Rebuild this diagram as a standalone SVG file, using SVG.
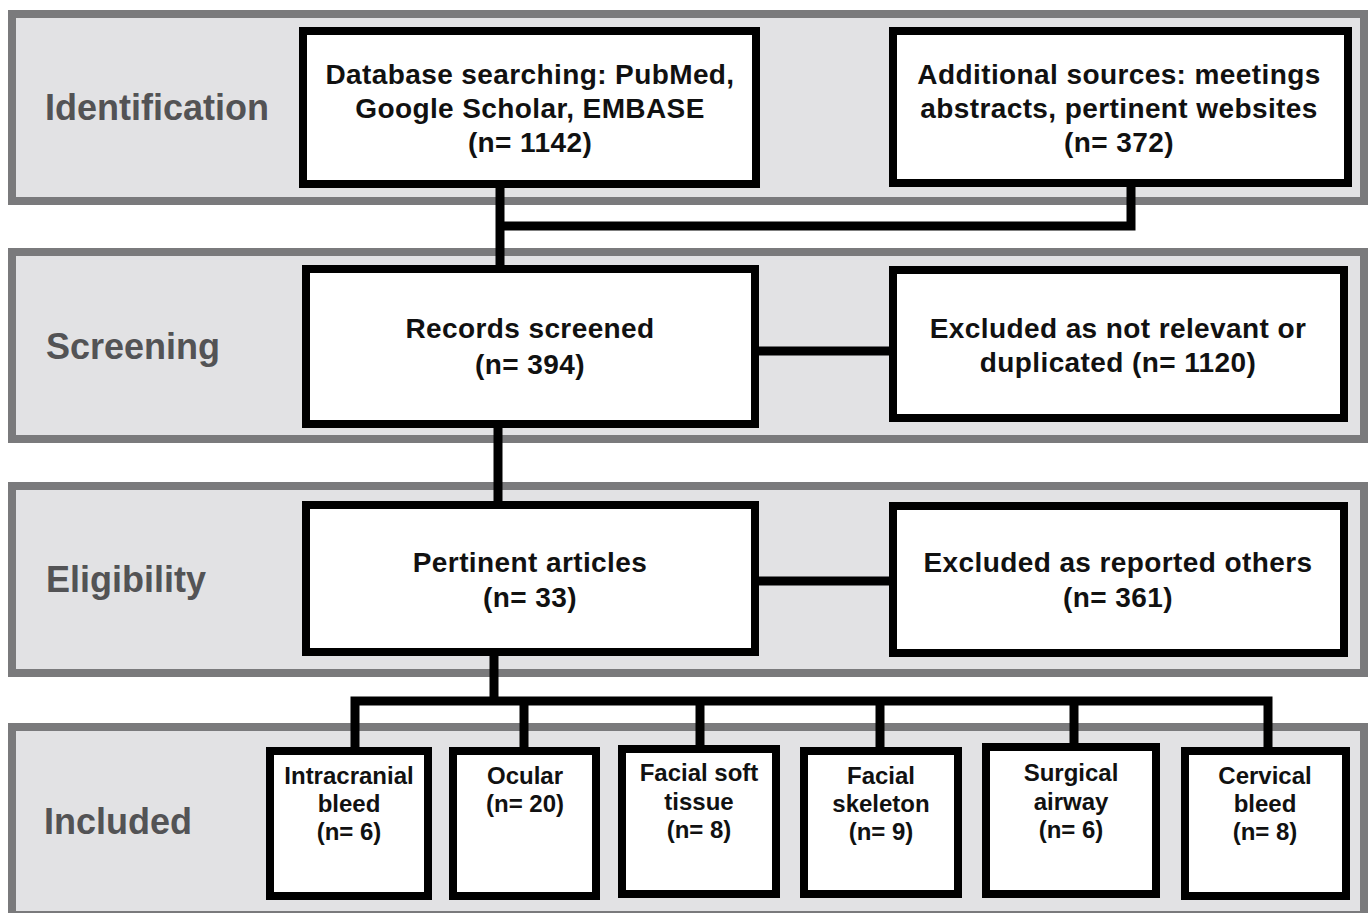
<svg xmlns="http://www.w3.org/2000/svg" width="1370" height="913" viewBox="0 0 1370 913">
<style>
.band{fill:#e2e2e4;stroke:#7a7a7c;stroke-width:8}
.box{fill:#fff;stroke:#000;stroke-width:8}
.lbl{font-family:"Liberation Sans",Arial,sans-serif;font-weight:bold;font-size:36px;fill:#535355}
.t{font-family:"Liberation Sans",Arial,sans-serif;font-weight:bold;font-size:28px;letter-spacing:0.4px;fill:#111;text-anchor:middle}
.s{font-family:"Liberation Sans",Arial,sans-serif;font-weight:bold;font-size:24px;fill:#111;text-anchor:middle}
.c{fill:none;stroke:#000;stroke-width:9;stroke-linejoin:miter;stroke-linecap:butt}
</style>
<rect width="1370" height="913" fill="#fff"/>
<g id="bands">
<rect class="band" x="12" y="14" width="1352" height="187"/>
<rect class="band" x="12" y="252" width="1352" height="187"/>
<rect class="band" x="12" y="486" width="1352" height="187"/>
<rect class="band" x="12" y="727" width="1352" height="188"/>
</g>
<g id="labels">
<text class="lbl" x="45" y="120">Identification</text>
<text class="lbl" x="46" y="359">Screening</text>
<text class="lbl" x="46" y="592">Eligibility</text>
<text class="lbl" x="44" y="834">Included</text>
</g>
<g id="connectors">
<path class="c" d="M500,186 V268"/>
<path class="c" d="M500,226 H1131 V186"/>
<path class="c" d="M757,351 H891"/>
<path class="c" d="M498,426 V506"/>
<path class="c" d="M757,581 H891"/>
<path class="c" d="M494,653 V701"/>
<path class="c" d="M355,749 V701 H1268 V749"/>
<path class="c" d="M524,701 V749"/>
<path class="c" d="M700,701 V749"/>
<path class="c" d="M880,701 V749"/>
<path class="c" d="M1074,701 V745"/>
</g>
<g id="n-database">
<rect class="box" x="303" y="31" width="453" height="153"/>
<text class="t" x="530" y="84">Database searching: PubMed,</text>
<text class="t" x="530" y="118">Google Scholar, EMBASE</text>
<text class="t" x="530" y="152">(n= 1142)</text>
</g>
<g id="n-additional">
<rect class="box" x="893" y="31" width="455" height="152"/>
<text class="t" x="1119" y="84">Additional sources: meetings</text>
<text class="t" x="1119" y="118">abstracts, pertinent websites</text>
<text class="t" x="1119" y="152">(n= 372)</text>
</g>
<g id="n-screened">
<rect class="box" x="306" y="269" width="449" height="155"/>
<text class="t" x="530" y="338">Records screened</text>
<text class="t" x="530" y="374">(n= 394)</text>
</g>
<g id="n-excluded1">
<rect class="box" x="893" y="270" width="451" height="148"/>
<text class="t" x="1118" y="338">Excluded as not relevant or</text>
<text class="t" x="1118" y="372">duplicated (n= 1120)</text>
</g>
<g id="n-pertinent">
<rect class="box" x="306" y="505" width="449" height="147"/>
<text class="t" x="530" y="572">Pertinent articles</text>
<text class="t" x="530" y="607">(n= 33)</text>
</g>
<g id="n-excluded2">
<rect class="box" x="893" y="506" width="451" height="147"/>
<text class="t" x="1118" y="572">Excluded as reported others</text>
<text class="t" x="1118" y="607">(n= 361)</text>
</g>
<g id="n-intracranial">
<rect class="box" x="270" y="751" width="158" height="145"/>
<text class="s" x="349" y="784">Intracranial</text>
<text class="s" x="349" y="812">bleed</text>
<text class="s" x="349" y="840">(n= 6)</text>
</g>
<g id="n-ocular">
<rect class="box" x="453" y="751" width="143" height="145"/>
<text class="s" x="525" y="784">Ocular</text>
<text class="s" x="525" y="812">(n= 20)</text>
</g>
<g id="n-softtissue">
<rect class="box" x="622" y="749" width="154" height="145"/>
<text class="s" x="699" y="781">Facial soft</text>
<text class="s" x="699" y="810">tissue</text>
<text class="s" x="699" y="838">(n= 8)</text>
</g>
<g id="n-skeleton">
<rect class="box" x="804" y="751" width="154" height="143"/>
<text class="s" x="881" y="784">Facial</text>
<text class="s" x="881" y="812">skeleton</text>
<text class="s" x="881" y="840">(n= 9)</text>
</g>
<g id="n-airway">
<rect class="box" x="986" y="747" width="170" height="147"/>
<text class="s" x="1071" y="781">Surgical</text>
<text class="s" x="1071" y="810">airway</text>
<text class="s" x="1071" y="838">(n= 6)</text>
</g>
<g id="n-cervical">
<rect class="box" x="1185" y="751" width="161" height="145"/>
<text class="s" x="1265" y="784">Cervical</text>
<text class="s" x="1265" y="812">bleed</text>
<text class="s" x="1265" y="840">(n= 8)</text>
</g>
</svg>
